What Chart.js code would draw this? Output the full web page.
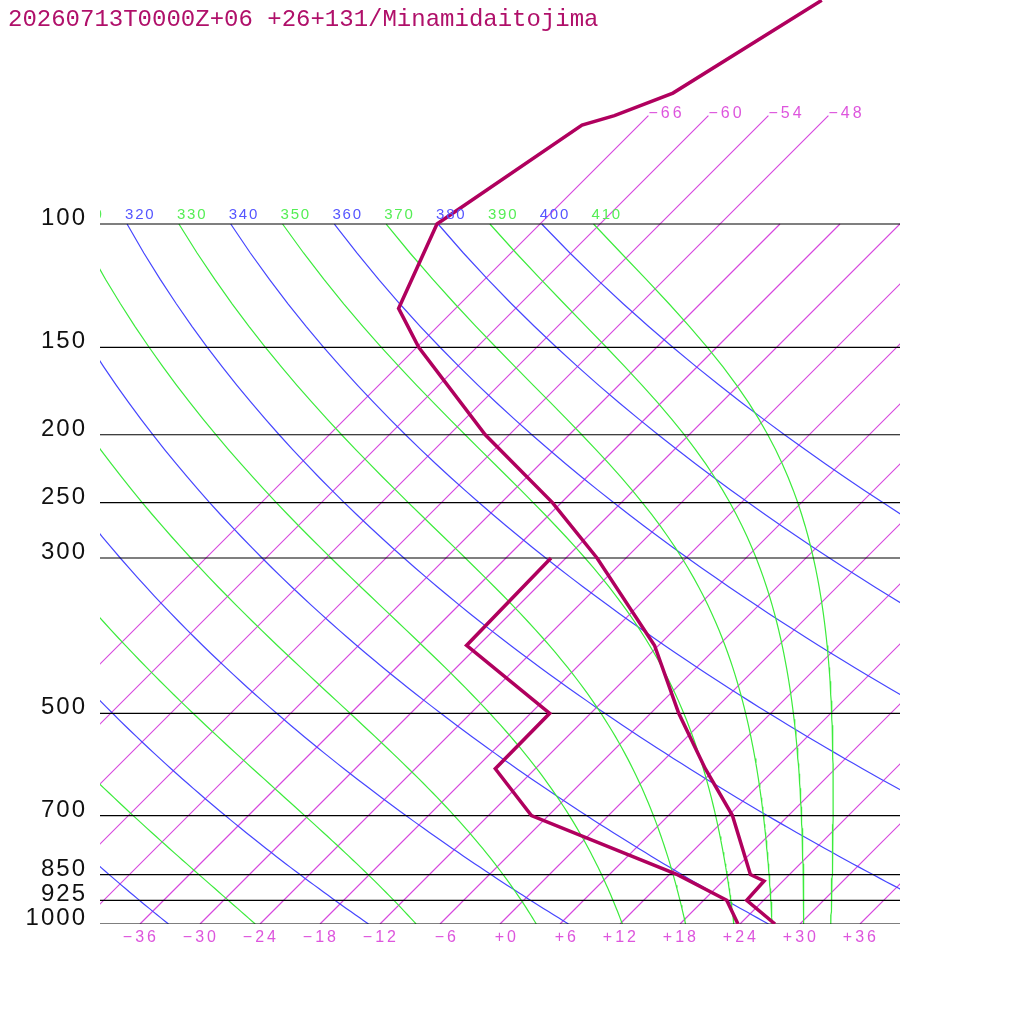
<!DOCTYPE html>
<html>
<head>
<meta charset="utf-8">
<title>Skew-T Minamidaitojima</title>
<script src="https://cdn.jsdelivr.net/npm/chart.js@4.4.1/dist/chart.umd.min.js"></script>
<style>
  html, body { margin: 0; padding: 0; background: #fff; }
  #wrap { width: 1024px; height: 1024px; }
</style>
</head>
<body>
<div id="wrap"><canvas id="skewt" width="1024" height="1024"></canvas></div>
<script>
// ========================================
// DATA
// ========================================

const TITLE = '20260713T0000Z+06 +26+131/Minamidaitojima';

// temperature profile, hPa / °C
const tempPres = [1000, 925, 868, 850, 700, 600, 500, 400, 300, 250, 200, 150, 132, 100, 72.2, 70, 65, 47.9];
const tempVals = [27.5, 22.3, 22.1, 20.1, 12.4, 5.0, -3.2, -12.4, -26.9, -36.9, -50.4, -65.8, -71.7, -76.3, -71.7, -69.4, -65.8, -60.2];

// dew point profile, hPa / °C
const dewPres = [1000, 925, 850, 700, 600, 500, 400, 300];
const dewVals = [23.8, 20.3, 12.8, -7.7, -16.0, -16.1, -31.2, -31.5];

// diagram background
const pressureLevels = [100, 150, 200, 250, 300, 500, 700, 850, 925, 1000];
const isotherms = [-66, -60, -54, -48, -42, -36, -30, -24, -18, -12, -6, 0, 6, 12, 18, 24, 30, 36];
const tallIsotherms = [-66, -60, -54, -48];   // these run on up to 70 hPa
const dryThetas = [240, 260, 280, 300, 320, 340, 360, 380, 400];
const moistThetas = [250, 270, 290, 310, 330, 350, 370, 390, 410];
const tempTicks = [-36, -30, -24, -18, -12, -6, 0, 6, 12, 18, 24, 30, 36];

// ========================================
// SKEW-T HELPERS
// ========================================

const P_TOP = 47.86;      // pressure at the top edge of the plot
const SKEW = 30.4;        // °C of lean per e-fold of pressure (45° isotherms)
const Rd = 287.04, Cp = 1005.7, Lv = 2.501e6, EPS = 0.622, KAPPA = Rd / Cp;

function skewX(t, p) {
    return t + SKEW * Math.log(1000 / p);
}

function toPoints(pres, vals) {
    return pres.map((p, i) => ({ x: skewX(vals[i], p), y: p }));
}

// pressure grid used to trace the adiabats
const curvePres = [];
for (let p = 100; p <= 1000; p += 10) curvePres.push(p);

function dryAdiabat(theta) {
    return curvePres.map(p => ({ x: skewX(theta * Math.pow(p / 1000, KAPPA) - 273.15, p), y: p }));
}

function satMix(p, tK) {
    const tc = tK - 273.15;
    const es = 6.112 * Math.exp(17.67 * tc / (tc + 243.5));
    return EPS * es / (p - es);
}

function dTdp(p, tK) {
    const rs = satMix(p, tK);
    return (Rd * tK + Lv * rs) / (p * (Cp + Lv * Lv * rs * EPS / (Rd * tK * tK)));
}

// pseudo-adiabat started at 100 hPa with the given potential temperature
function moistAdiabat(theta) {
    let t = theta * Math.pow(0.1, KAPPA);
    const pts = [{ x: skewX(t - 273.15, 100), y: 100 }];
    const h = 2;
    for (let p = 100; p < 1000; p += h) {
        const k1 = dTdp(p, t);
        const k2 = dTdp(p + h / 2, t + h * k1 / 2);
        const k3 = dTdp(p + h / 2, t + h * k2 / 2);
        const k4 = dTdp(p + h, t + h * k3);
        t += h * (k1 + 2 * k2 + 2 * k3 + k4) / 6;
        const pn = p + h;
        if (pn % 10 === 0) pts.push({ x: skewX(t - 273.15, pn), y: pn });
    }
    return pts;
}

function lineSet(data, color, width, order) {
    return {
        data: data,
        borderColor: color,
        backgroundColor: color,
        borderWidth: width,
        pointRadius: 0,
        fill: false,
        tension: 0,
        order: order
    };
}

function signed(t) {
    return (t >= 0 ? '+' : '\u2212') + Math.abs(t);
}

// ========================================
// DATASETS
// ========================================

const COL_ISO = 'rgb(214, 72, 222)';
const COL_DRY = 'rgb(70, 70, 255)';
const COL_MOIST = 'rgb(60, 235, 60)';
const COL_PROFILE = 'rgb(176, 0, 94)';

const datasets = [];

const tempSet = lineSet(toPoints(tempPres, tempVals), COL_PROFILE, 3.5, 0);
tempSet.borderJoinStyle = 'miter';
const dewSet = lineSet(toPoints(dewPres, dewVals), COL_PROFILE, 3.5, 0);
dewSet.borderJoinStyle = 'miter';
datasets.push(tempSet, dewSet);

pressureLevels.forEach(p => {
    datasets.push(lineSet([{ x: -40, y: p }, { x: 40, y: p }], 'rgb(0, 0, 0)', 1.2, 1));
});

moistThetas.forEach(th => datasets.push(lineSet(moistAdiabat(th), COL_MOIST, 1.2, 2)));
dryThetas.forEach(th => datasets.push(lineSet(dryAdiabat(th), COL_DRY, 1.2, 3)));

isotherms.forEach(t => {
    const top = tallIsotherms.includes(t) ? 70 : 100;
    const iso = [{ x: skewX(t, 1000), y: 1000 }, { x: skewX(t, top), y: top }];
    datasets.push(lineSet(iso, COL_ISO, 1.2, 4));
});

// ========================================
// TEXT PLUGIN
// ========================================

const labelsPlugin = {
    id: 'skewLabels',
    afterDraw(chart) {
        const { ctx, scales: { x, y } } = chart;
        ctx.save();

        // title
        ctx.font = '24px "Liberation Mono"';
        ctx.fillStyle = '#b0106a';
        ctx.textAlign = 'left';
        ctx.textBaseline = 'alphabetic';
        ctx.fillText(TITLE, 8, 26);

        // pressure labels
        ctx.font = '24px "Liberation Sans"';
        ctx.letterSpacing = '2px';
        ctx.fillStyle = '#111';
        ctx.textAlign = 'right';
        pressureLevels.forEach(p => {
            ctx.fillText(String(p), 87, y.getPixelForValue(p) + 1);
        });

        // temperature ticks under the plot
        ctx.font = '16px "Liberation Sans"';
        ctx.letterSpacing = '3px';
        ctx.fillStyle = '#dd55dd';
        ctx.textAlign = 'right';
        tempTicks.forEach(t => {
            ctx.fillText(signed(t), x.getPixelForValue(skewX(t, 1000)) + 19, 942);
        });

        // isotherm labels at the top
        ctx.textAlign = 'left';
        tallIsotherms.forEach(t => {
            ctx.fillText(signed(t), x.getPixelForValue(skewX(t, 70)), y.getPixelForValue(70) + 2);
        });

        // adiabat labels along 100 hPa
        ctx.font = '15px "Liberation Sans"';
        ctx.letterSpacing = '1.8px';
        ctx.beginPath();
        ctx.rect(100, 190, 900, 40);
        ctx.clip();
        const yTop = y.getPixelForValue(100) - 5;
        dryThetas.forEach(th => {
            ctx.fillStyle = '#5555ff';
            const px = x.getPixelForValue(skewX(th * Math.pow(0.1, KAPPA) - 273.15, 100));
            ctx.fillText(String(th), px - 2, yTop);
        });
        moistThetas.forEach(th => {
            ctx.fillStyle = '#55ee55';
            const px = x.getPixelForValue(skewX(th * Math.pow(0.1, KAPPA) - 273.15, 100));
            ctx.fillText(String(th), px - 2, yTop);
        });

        ctx.restore();
    }
};

// ========================================
// CHART
// ========================================

new Chart(document.getElementById('skewt').getContext('2d'), {
    type: 'line',
    data: { datasets: datasets },
    options: {
        responsive: false,
        devicePixelRatio: 1,
        animation: false,
        layout: { padding: { left: 100, right: 124, top: 0, bottom: 100 } },
        scales: {
            x: { type: 'linear', min: -40, max: 40, display: false },
            y: { type: 'logarithmic', min: P_TOP, max: 1000, reverse: true, display: false }
        },
        plugins: {
            legend: { display: false },
            tooltip: { enabled: false }
        },
        elements: { point: { radius: 0 } }
    },
    plugins: [labelsPlugin]
});
</script>
</body>
</html>
